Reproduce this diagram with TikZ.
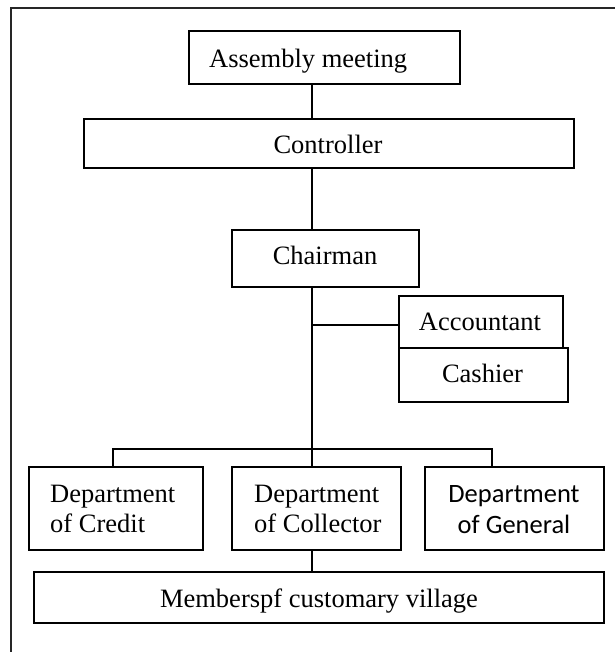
\documentclass[tikz,border=0pt]{standalone}
\usepackage{fontspec}
\setmainfont{Liberation Serif}
\newfontfamily\calib{Carlito}
\begin{document}
\begin{tikzpicture}[x=1pt,y=-1pt,
  box/.style={draw=black, line width=1.7pt, rectangle, inner sep=0pt, anchor=north west},
  lbl/.style={inner sep=0pt, font=\fontsize{26.5}{30}\selectfont, anchor=base},
  lblw/.style={lbl, anchor=base west},
  conn/.style={draw=black, line width=1.6pt}]
\useasboundingbox (0,0) rectangle (614,652);
% outer frame (cut off at right and bottom)
\coordinate (frameBL) at (10.5,700);
\coordinate (frameTL) at (10.5,8.5);
\coordinate (frameTR) at (700,8.5);
\draw[line width=2pt, black!85] (frameBL) -- (frameTL) -- (frameTR);

% boxes
\node[box, minimum width=271pt, minimum height=53pt] (assembly) at (188,30) {};
\node[box, minimum width=490pt, minimum height=49pt] (controller) at (83,118) {};
\node[box, minimum width=187pt, minimum height=57pt] (chairman) at (231,229) {};
\node[box, minimum width=164pt, minimum height=52pt] (accountant) at (398,295) {};
\node[box, minimum width=169pt, minimum height=54pt] (cashier) at (398,347) {};
\node[box, minimum width=174pt, minimum height=83pt] (credit) at (28,466) {};
\node[box, minimum width=169pt, minimum height=83pt] (collector) at (231,466) {};
\node[box, minimum width=179pt, minimum height=83pt] (general) at (424,466) {};
\node[box, minimum width=570pt, minimum height=51pt] (members) at (33,571) {};

% labels
\node[lblw] (tAssembly) at (209,68) {Assembly meeting};
\node[lbl] (tController) at (328,154) {Controller};
\node[lbl] (tChairman) at (325,264) {Chairman};
\node[lbl] (tAccountant) at (480,330) {Accountant};
\node[lbl] (tCashier) at (482.5,382) {Cashier};
\node[lblw] (tCredit1) at (50,502) {Department};
\node[lblw] (tCredit2) at (50,532) {of Credit};
\node[lblw] (tColl1) at (254,502) {Department};
\node[lblw] (tColl2) at (254,532) {of Collector};
\node[lbl, font=\calib\fontsize{26.5}{30}\selectfont] (tGen1) at (514,502) {Department};
\node[lbl, font=\calib\fontsize{26.5}{30}\selectfont] (tGen2) at (514,533) {of General};
\node[lbl] (tMembers) at (319,607) {Memberspf customary village};

% connectors
\coordinate (stem) at (312,0);
\coordinate (junction) at (312,325);
\coordinate (bus) at (312,449);
\coordinate (busL) at (113,449);
\coordinate (busR) at (492,449);
\draw[conn] (assembly.south -| stem) -- (controller.north -| stem);
\draw[conn] (controller.south -| stem) -- (chairman.north -| stem);
\draw[conn] (chairman.south -| stem) -- (bus);
\draw[conn] (junction) -- (junction -| accountant.west);
\draw[conn] (credit.north -| busL) -- (busL) -- (busR) -- (general.north -| busR);
\draw[conn] (bus) -- (collector.north -| bus);
\draw[conn] (collector.south -| stem) -- (members.north -| stem);
\end{tikzpicture}
\end{document}
